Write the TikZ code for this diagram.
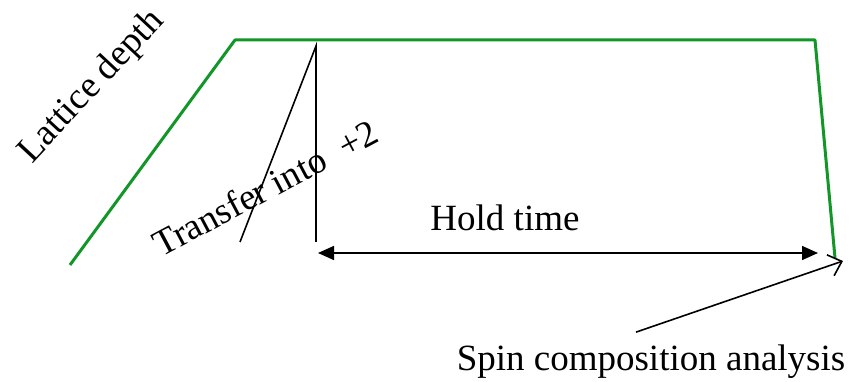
\documentclass[tikz,border=0pt]{standalone}
\usepackage{fontspec}
\setmainfont{Liberation Serif}
\usepackage{tikz}
\usetikzlibrary{arrows.meta,positioning}
\definecolor{depthgreen}{RGB}{18,150,40}

\begin{document}
\begin{tikzpicture}[x=1pt,y=-1pt,
  caption/.style={font=\fontsize{37}{44}\selectfont,inner sep=0pt},
  ramp/.style={depthgreen,line width=3pt,line join=round},
  markline/.style={line width=1.6pt}]
  \useasboundingbox (0,0) rectangle (865,382);
  \coordinate (rampstart) at (70,265);
  \coordinate (rampup)    at (235,40);
  \coordinate (rampdown)  at (815,40);
  \coordinate (rampend)   at (835,258);
  \draw[ramp] (rampstart) -- (rampup) -- (rampdown) -- (rampend);
  \coordinate (transtop)  at (316,46);
  \coordinate (transbot)  at (316,242);
  \coordinate (transfoot) at (240,242);
  \draw[markline] (transfoot) -- (transtop) -- (transbot);
  \coordinate (holdL) at (318,253);
  \coordinate (holdR) at (818,253);
  \draw[markline,{Triangle[length=16pt,width=14pt]}-{Triangle[length=16pt,width=14pt]}] (holdL) -- (holdR);
  \node[caption] (hold) at (505,218) {Hold time};
  \node[caption,rotate=47] (depth) at (92,87) {Lattice depth};
  \node[caption,rotate=28] (transfer) at (265,188) {Transfer into\ \ +2};
  \node[caption,anchor=base] (spin) at (651,370) {Spin composition analysis};
  \coordinate (spintip) at (843,261);
  \draw[markline,-{Straight Barb[length=12pt,width=22pt]}] ([shift={(-15pt,12pt)}]spin.north) -- (spintip);
\end{tikzpicture}
\end{document}
